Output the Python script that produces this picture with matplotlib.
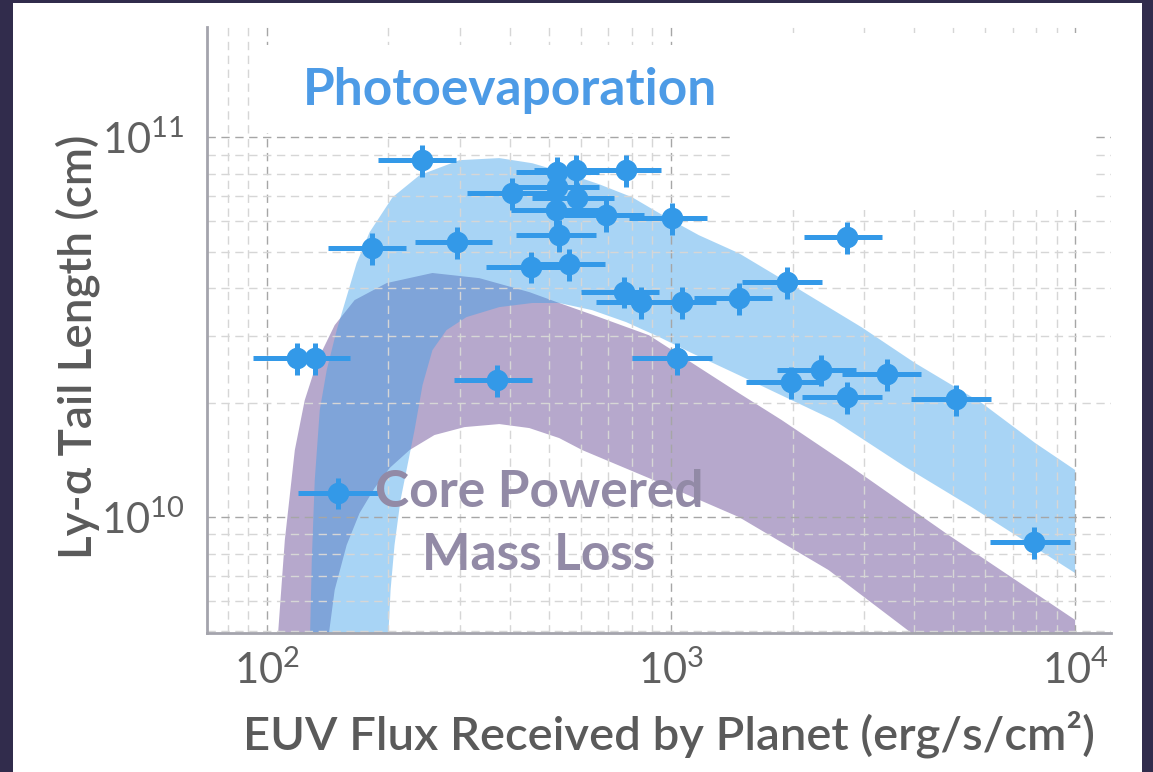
import numpy as np
import matplotlib.pyplot as plt
from matplotlib.patches import Rectangle
from matplotlib.ticker import FixedLocator, FuncFormatter, NullFormatter

plt.rcParams["font.family"] = ["Lato", "DejaVu Sans"]
plt.rcParams["mathtext.fontset"] = "custom"
plt.rcParams["mathtext.rm"] = "Lato"
plt.rcParams["mathtext.it"] = "Lato:italic"
plt.rcParams["mathtext.bf"] = "Lato:bold"

# Measured tail lengths: flux (with range) and Ly-alpha tail length
flux = [118.6, 131.4, 149.7, 181.6, 241.4, 296.2, 371.9, 405.0, 451.2, 560.1,
        523.0, 582.8, 774.3, 523.0, 586.1, 520.0, 691.0, 529.0, 1005.7, 765.6,
        843.3, 1064.6, 1472, 1934, 1034.7, 2347, 1978, 2721, 3415, 2721,
        5084, 7922]
flux_lo = [92.3, 105.9, 119.3, 141.5, 187.9, 232.0, 291.2, 313.6, 349.4, 446.1,
           414.3, 458.9, 627.4, 409.6, 453.8, 402.7, 544.5, 414.3, 787.5, 599.5,
           652.9, 833.7, 1140, 1497, 801.1, 1827, 1532, 2107, 2644, 2131,
           3936, 6167]
flux_hi = [147.2, 160.3, 187.9, 221.6, 294.5, 361.4, 453.8, 529.0, 560.1, 687.1,
           664.0, 723.3, 944.7, 664.0, 723.3, 664.0, 857.8, 652.9, 1227, 933.9,
           1077, 1291, 1776, 2360, 1263, 2862, 2320, 3319, 4166, 3319,
           6203, 9721]
tail = [2.62e10, 2.62e10, 1.16e10, 5.10e10, 8.70e10, 5.29e10, 2.29e10, 7.12e10,
        4.55e10, 4.63e10, 8.09e10, 8.19e10, 8.19e10, 7.39e10, 6.91e10, 6.43e10,
        6.23e10, 5.52e10, 6.12e10, 3.91e10, 3.68e10, 3.68e10, 3.77e10, 4.15e10,
        2.62e10, 2.44e10, 2.27e10, 2.07e10, 2.38e10, 5.45e10, 2.04e10, 8.59e9]
tail_err = [2.5e9, 2.5e9, 1.1e9, 4.8e9, 8.3e9, 5.0e9, 2.2e9, 6.8e9,
            4.3e9, 4.4e9, 7.7e9, 7.8e9, 7.8e9, 7.0e9, 6.6e9, 6.1e9,
            5.9e9, 5.2e9, 5.8e9, 3.7e9, 3.5e9, 3.5e9, 3.6e9, 3.9e9,
            2.5e9, 2.3e9, 2.2e9, 2.0e9, 2.3e9, 5.2e9, 1.9e9, 8.2e8]

# Photoevaporation prediction band (upper edge, then lower edge)
pe_upper_F = [127.7, 129.2, 131.4, 135.2, 140.7, 148.9, 166.8, 179.6, 204.7, 238.7,
              299.6, 376.1, 453.8, 550.7, 664.0, 801.1, 972.0, 1172.7, 1472, 1956,
              2962, 4026, 5861, 7966, 10000]
pe_upper_L = [4.47e9, 7.71e9, 1.251e10, 1.912e10, 2.44e10, 3.105e10, 4.66e10, 5.62e10,
              6.95e10, 7.94e10, 8.70e10, 8.81e10, 8.54e10, 8.04e10, 7.52e10, 6.95e10,
              6.16e10, 5.52e10, 4.95e10, 4.13e10, 3.16e10, 2.54e10, 2.0e10, 1.566e10,
              1.33e10]
pe_lower_F = [10000, 5537, 3804, 2526, 1472, 1127, 933.9, 774.3, 638.1, 529.0,
              453.8, 376.1, 311.8, 278.3, 256.9, 242.8, 232.0, 222.9, 214.2, 207.0,
              202.4, 199.0]
pe_lower_L = [7.12e9, 1.063e10, 1.354e10, 1.80e10, 2.364e10, 2.70e10, 2.98e10, 3.26e10,
              3.505e10, 3.66e10, 3.66e10, 3.57e10, 3.36e10, 3.105e10, 2.75e10, 2.225e10,
              1.694e10, 1.37e10, 1.108e10, 8.44e9, 6.43e9, 4.47e9]

# Core-powered mass loss prediction band (upper edge, then lower edge)
cp_upper_F = [105.9, 110.8, 117.3, 124.1, 133.6, 147.2, 164.9, 197.9, 256.9, 335.7,
              446.1, 529.0, 664.0, 882.4, 1472, 1879, 2752, 4858, 10000]
cp_upper_L = [4.47e9, 8.70e9, 1.501e10, 2.03e10, 2.59e10, 3.20e10, 3.725e10, 4.13e10,
              4.39e10, 4.255e10, 3.91e10, 3.66e10, 3.36e10, 3.01e10, 2.12e10, 1.80e10,
              1.37e10, 8.97e9, 5.36e9]
cp_lower_F = [10000, 3936, 2455, 1472, 882.4, 602.8, 529.0, 446.1, 376.1, 308.3,
              259.9, 225.5, 201.3, 184.8, 169.6, 157.6, 147.2, 140.7]
cp_lower_L = [2.59e9, 4.95e9, 7.25e9, 1.0e10, 1.266e10, 1.501e10, 1.614e10, 1.715e10,
              1.757e10, 1.725e10, 1.644e10, 1.501e10, 1.346e10, 1.192e10, 1.024e10,
              8.44e9, 6.43e9, 4.47e9]

point_blue = "#3399e8"
fig = plt.figure(figsize=(11.53, 7.72), dpi=100, facecolor="#312c4c")
# white card behind the plot
card = fig.add_axes([13 / 1153, 0, 1129 / 1153, 769 / 772], zorder=-1)
card.set_facecolor("white")
card.set_xticks([])
card.set_yticks([])
for s in card.spines.values():
    s.set_visible(False)

ax = fig.add_axes([0.1795, 0.18, 0.7841, 0.785])
ax.patch.set_alpha(0)
ax.set_xscale("log")
ax.set_yscale("log")

ax.fill(cp_upper_F + cp_lower_F, cp_upper_L + cp_lower_L,
        color="#b6a8cc", lw=0, zorder=1)
ax.fill(pe_upper_F + pe_lower_F, pe_upper_L + pe_lower_L,
        color="#3a9fea", alpha=0.44, lw=0, zorder=1.1)

xerr = [np.array(flux) - np.array(flux_lo), np.array(flux_hi) - np.array(flux)]
ax.errorbar(flux, tail, xerr=xerr, yerr=tail_err, fmt="o", color=point_blue,
            ms=14.5, elinewidth=3.6, capsize=0, zorder=3)

ax.set_xlim(71.1, 12270)
ax.set_ylim(4.95e9, 1.95e11)

ax.xaxis.set_major_locator(FixedLocator([1e2, 1e3, 1e4]))
ax.yaxis.set_major_locator(FixedLocator([1e10, 1e11]))
fmt = FuncFormatter(lambda v, p: r"$10^{%d}$" % round(np.log10(v)))
ax.xaxis.set_major_formatter(fmt)
ax.yaxis.set_major_formatter(fmt)
ax.xaxis.set_minor_formatter(NullFormatter())
ax.yaxis.set_minor_formatter(NullFormatter())
ax.tick_params(which="both", length=0, labelsize=30, labelcolor="#606060")
ax.tick_params(axis="x", pad=12)
ax.tick_params(axis="y", pad=16)

ax.set_axisbelow("line")
ax.grid(which="major", color="#a6a6a6", ls=(0, (6, 4)), lw=1.0)
ax.grid(which="minor", color="#d6d6d6", ls=(0, (6, 4)), lw=1.0)

for s in ["top", "right"]:
    ax.spines[s].set_visible(False)
for s in ["left", "bottom"]:
    ax.spines[s].set_color("#a4a4ac")
    ax.spines[s].set_linewidth(2)

# blank areas behind the heading and the upper right corner
ax.add_patch(Rectangle((0.056, 0.825), 0.585, 0.145, transform=ax.transAxes,
                       facecolor="white", edgecolor="none", zorder=1.8))
ax.add_patch(Rectangle((0.579, 0.698), 0.403, 0.292, transform=ax.transAxes,
                       facecolor="white", edgecolor="none", zorder=1.8))

ax.text(0.335, 0.896, "Photoevaporation", transform=ax.transAxes,
        ha="center", va="center", fontsize=37, fontweight="bold",
        color="#4d9be6", zorder=4)
ax.text(0.367, 0.18, "Core Powered\nMass Loss", transform=ax.transAxes,
        ha="center", va="center", fontsize=37, fontweight="bold",
        color="#928aa6", linespacing=1.42, zorder=4)

ax.set_xlabel("EUV Flux Received by Planet (erg/s/cm²)", fontsize=34,
              fontweight="semibold", color="#5a5a5a")
ax.set_ylabel("Ly-α Tail Length (cm)", fontsize=33,
              fontweight="semibold", color="#5a5a5a")
ax.xaxis.set_label_coords(0.511, -0.128)
ax.yaxis.set_label_coords(-0.118, 0.472)

fig.savefig("out.png", dpi=100, facecolor=fig.get_facecolor())
